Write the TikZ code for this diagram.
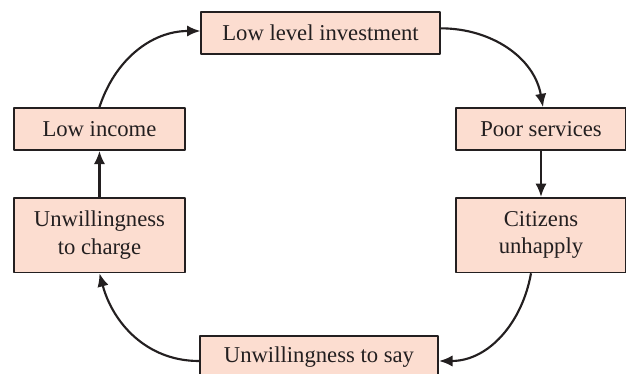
\documentclass[tikz,border=0pt]{standalone}
\usepackage{fontspec}
\setmainfont{Liberation Serif}
\usepackage{tikz}
\usetikzlibrary{arrows.meta,positioning}

\definecolor{peach}{RGB}{252,221,208}
\definecolor{ink}{RGB}{35,31,32}

\tikzset{
  box/.style={draw=ink,fill=peach,line width=1.3pt,minimum height=31.5pt,inner sep=2pt,
    align=center,font=\fontsize{17}{20.5}\selectfont,text=ink},
  tall/.style={box,minimum height=56pt},
  flow/.style={-{Latex[length=10pt,width=8.5pt]},line width=1.6pt,draw=ink}
}

\begin{document}
\begin{tikzpicture}[node distance=34.5pt,line join=round]
\clip (0pt,0pt) rectangle (469.5pt,-280.5pt);
\node [box,minimum width=179pt] at (240.4pt,-24.75pt) (inv) {Low level investment};
\node [box,minimum width=128pt] at (74.6pt,-96.75pt) (inc) {Low income};
\node [tall,minimum width=128pt,below=of inc] (chg) {Unwillingness\\to charge};
\node [box,minimum width=127.5pt] at (405.75pt,-96.75pt) (srv) {Poor services};
\node [tall,minimum width=127.5pt,below=of srv] (cit) {Citizens\\unhapply};
\node [box,minimum width=179pt] at (239.25pt,-267.75pt) (say) {Unwillingness to say};

\draw [flow] (inc.north) to[out=72,in=180] ([yshift=1.5pt]inv.west);
\draw [flow] ([yshift=3.5pt]inv.east) to[out=0,in=100] ([xshift=1.5pt]srv.north);
\draw [flow] (srv) -- (cit);
\draw [flow] ([xshift=-7.5pt]cit.south) to[out=-100,in=0] ([yshift=-3pt]say.east);
\draw [flow] ([yshift=-3pt]say.west) to[out=180,in=-75] (chg.south);
\draw [flow] (chg) -- (inc);

\end{tikzpicture}
\end{document}
